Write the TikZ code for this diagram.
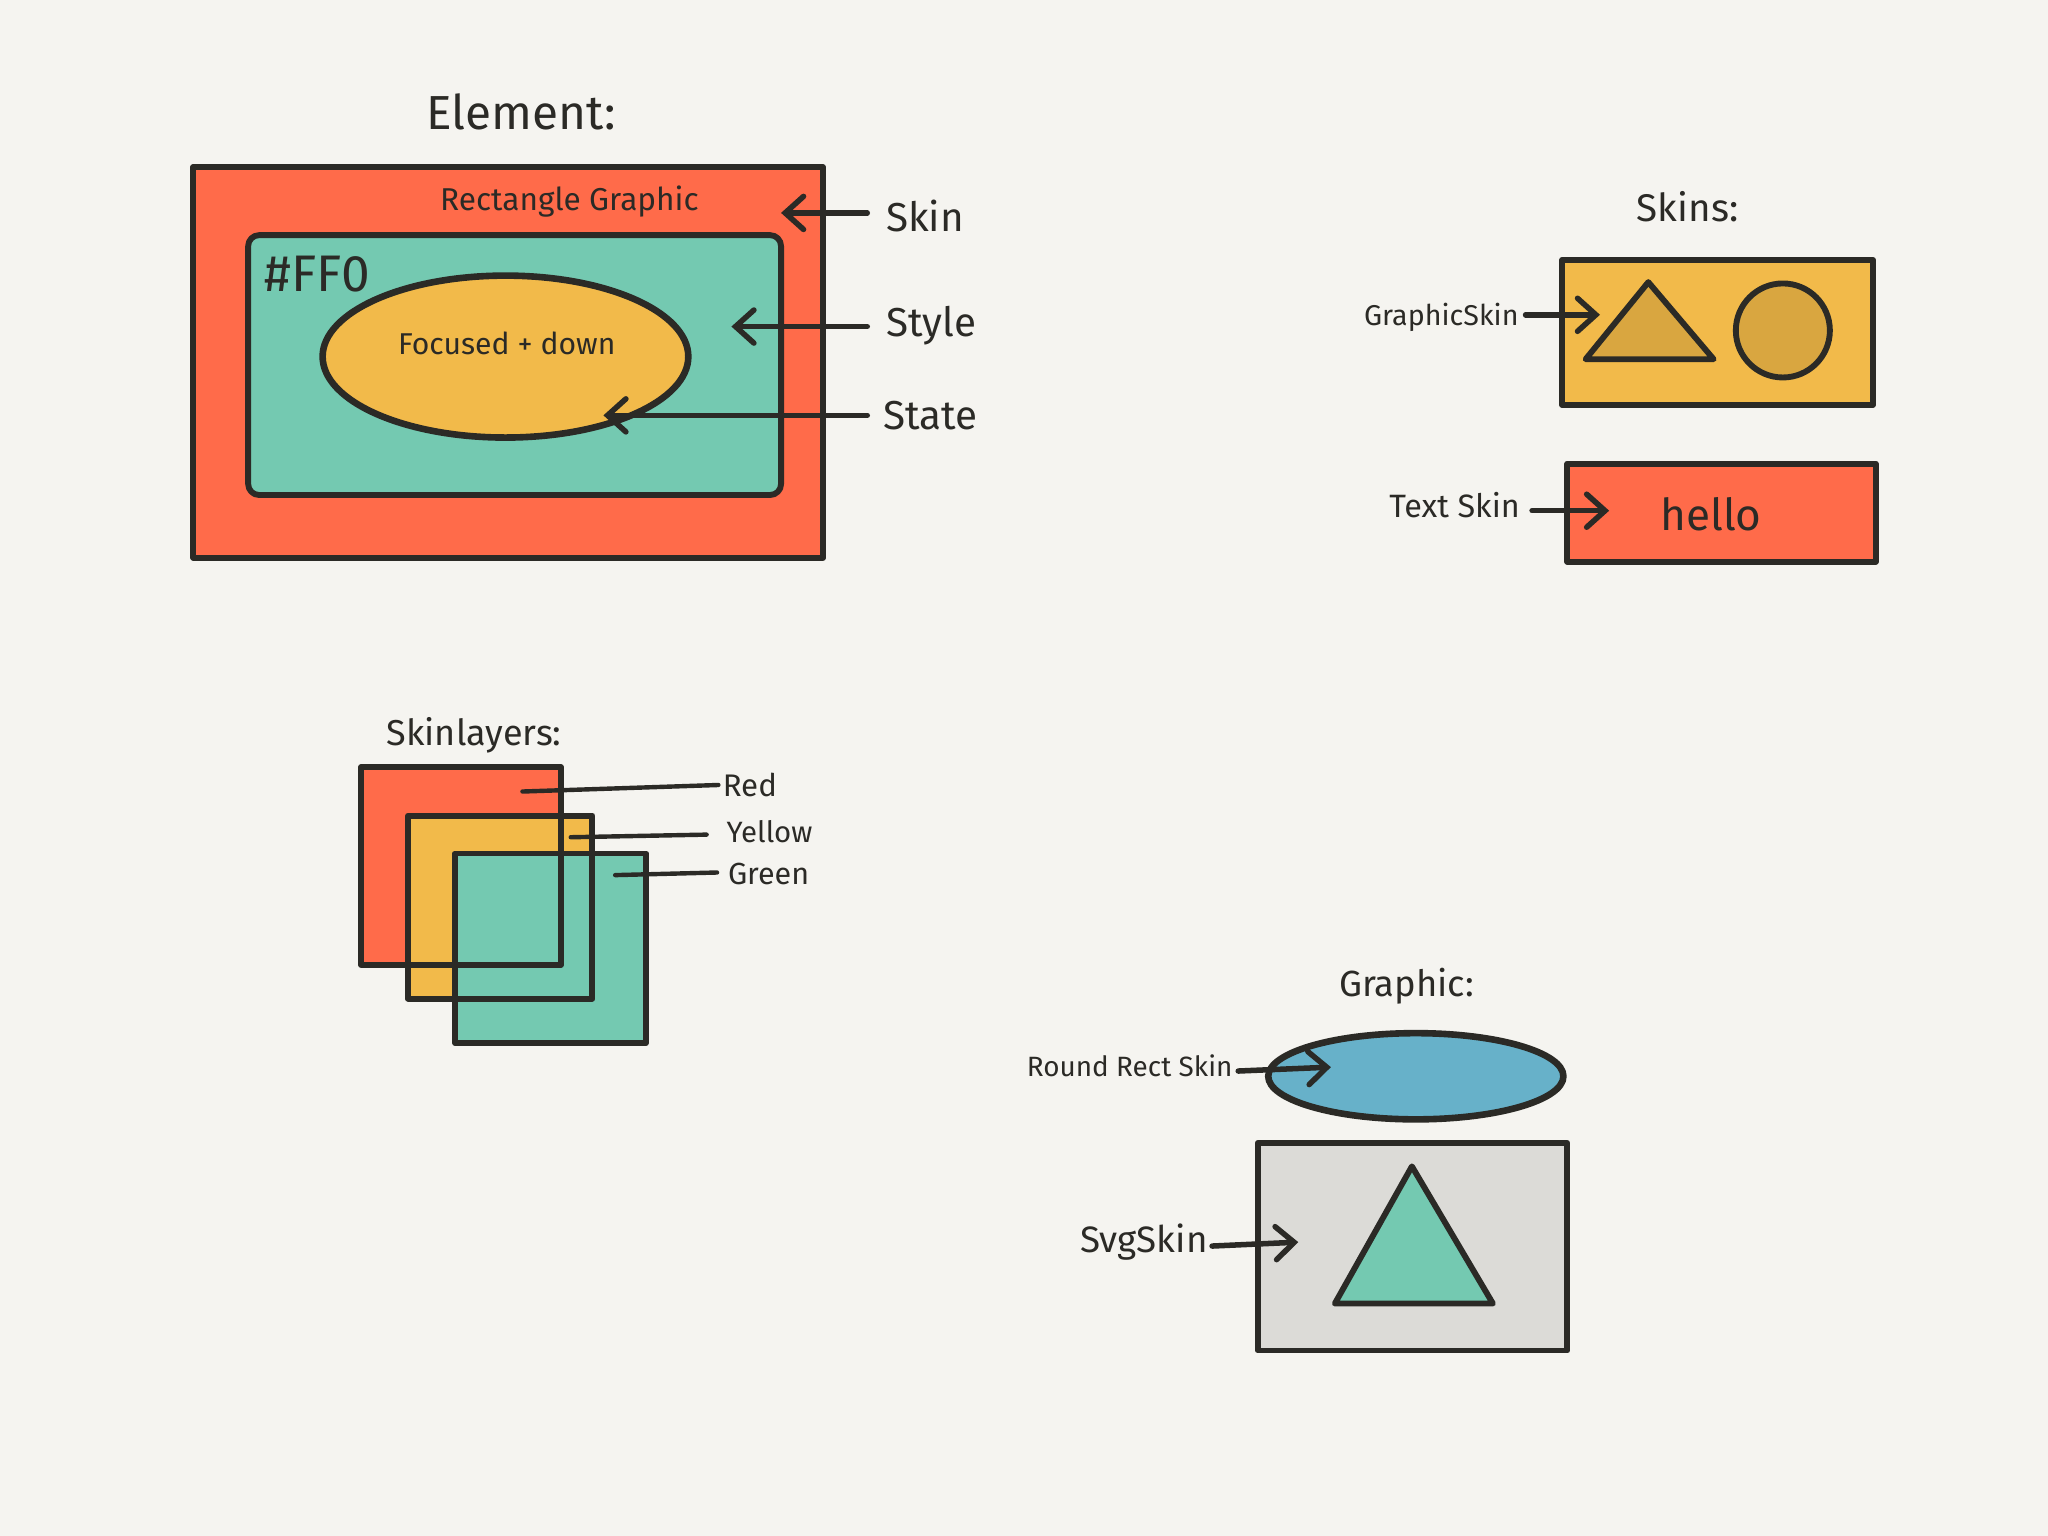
\documentclass[tikz,border=0pt]{standalone}
\usepackage{fontspec}
\setmainfont{Fira Sans}
\usetikzlibrary{arrows.meta,shapes.geometric}
\definecolor{bg}{HTML}{F5F4F0}
\definecolor{ink}{HTML}{2B2A26}
\definecolor{cred}{HTML}{FF6B4A}
\definecolor{cteal}{HTML}{74C9B1}
\definecolor{cyel}{HTML}{F2BA4A}
\definecolor{cdyel}{HTML}{D9A640}
\definecolor{cblue}{HTML}{67B1C9}
\definecolor{cgray}{HTML}{DCDBD7}
\def\u{0.0125cm}
\newcommand{\fs}[1]{\fontsize{#1}{#1}\selectfont}
\tikzset{
  shp/.style={draw=ink, line width=1.6pt, inner sep=0pt, line join=round},
  fillonly/.style={inner sep=0pt},
  arr/.style={draw=ink, line width=1.5pt, line cap=round, -{Straight Barb[length=5pt,width=9pt,line cap=round]}},
  lead/.style={draw=ink, line width=1.2pt, line cap=round},
  lbl/.style={text=ink, inner sep=1pt},
}
\begin{document}
\begin{tikzpicture}[x=0.0125cm, y=-0.0125cm]
\useasboundingbox (0,0) rectangle (1568,1176);
\fill[bg] (0,0) rectangle (1568,1176);

% ---------- Element ----------
\node[lbl, font=\fs{13}] (elTitle) at (399,86) {Element:};
\node[shp, fill=cred, minimum width=482*\u, minimum height=299*\u] (outer) at (389,277.5) {};
\node[lbl, font=\fs{8.6}] (rg) at (436,154) {Rectangle Graphic};
\node[shp, fill=cteal, rounded corners=3pt, minimum width=408*\u, minimum height=199*\u] (inner) at (394,279.5) {};
\node[lbl, font=\fs{14}] (ffo) at (243,210) {\#FF0};
\node[shp, ellipse, line width=1.8pt, fill=cyel, minimum width=280*\u, minimum height=124*\u] (state) at (387,273) {};
\node[lbl, font=\fs{8.2}] (fd) at (388,263) {Focused + down};

\node[lbl, font=\fs{11}, anchor=west] (skinL) at (675,165) {Skin};
\node[lbl, font=\fs{11}, anchor=west] (styleL) at (675,249) {Style};
\node[lbl, font=\fs{11}, anchor=west] (stateL) at (673,318) {State};
\coordinate (skinS) at (664,163);
\coordinate (skinT) at (598,163);
\coordinate (styleS) at (664,250);
\coordinate (styleT) at (560,250);
\coordinate (stateS) at (664,318);
\coordinate (stateT) at (462,318);
\draw[arr] (skinS) -- (skinT);
\draw[arr] (styleS) -- (styleT);
\draw[arr] (stateS) -- (stateT);

% ---------- Skins ----------
\node[lbl, font=\fs{10.5}] (skinsTitle) at (1292,158) {Skins:};
\node[shp, fill=cyel, minimum width=238*\u, minimum height=111*\u] (gskin) at (1315,254.5) {};
\coordinate (ta) at (1262,216);
\coordinate (tb) at (1214,275);
\coordinate (tc) at (1312,275);
\draw[shp, fill=cdyel] (ta) -- (tb) -- (tc) -- cycle;
\node[shp, circle, fill=cdyel, minimum size=72*\u] (circ) at (1365,253) {};
\node[lbl, font=\fs{7.8}, anchor=east] (gsL) at (1166,243) {GraphicSkin};
\coordinate (gsS) at (1168,241);
\coordinate (gsT) at (1225,241);
\draw[arr] (gsS) -- (gsT);

\node[shp, fill=cred, minimum width=236*\u, minimum height=75*\u] (tskin) at (1318,392.5) {};
\node[lbl, font=\fs{12}] (hello) at (1310,394) {hello};
\node[lbl, font=\fs{8.8}, anchor=east] (tsL) at (1167,387) {Text Skin};
\coordinate (tsS) at (1173,391);
\coordinate (tsT) at (1232,391);
\draw[arr] (tsS) -- (tsT);

% ---------- Skinlayers ----------
\node[lbl, font=\fs{9.8}] (slTitle) at (363,563) {Skinlayers:};
\node[fillonly, fill=cred, minimum width=152*\u, minimum height=150*\u] (lred) at (353,663) {};
\node[fillonly, fill=cyel, minimum width=140*\u, minimum height=139*\u] (lyel) at (383,694.5) {};
\node[fillonly, fill=cteal, minimum width=145*\u, minimum height=144*\u] (lgrn) at (421.5,726) {};
\draw[shp] (lred.north west) rectangle (lred.south east);
\draw[shp] (lyel.north west) rectangle (lyel.south east);
\draw[shp] (lgrn.north west) rectangle (lgrn.south east);
\node[lbl, font=\fs{8.5}, anchor=west] (redL) at (550,601) {Red};
\node[lbl, font=\fs{8}, anchor=west] (yelL) at (553,637) {Yellow};
\node[lbl, font=\fs{8.3}, anchor=west] (grnL) at (554,669) {Green};
\coordinate (redP) at (400,606);
\coordinate (redE) at (550,601);
\coordinate (yelP) at (437,641);
\coordinate (yelE) at (541,639);
\coordinate (grnP) at (471,670);
\coordinate (grnE) at (549,668);
\draw[lead] (redP) -- (redE);
\draw[lead] (yelP) -- (yelE);
\draw[lead] (grnP) -- (grnE);

% ---------- Graphic ----------
\node[lbl, font=\fs{9.9}] (grTitle) at (1077,755) {Graphic:};
\node[shp, ellipse, line width=1.8pt, fill=cblue, minimum width=226*\u, minimum height=66*\u] (rr) at (1084,824) {};
\node[shp, fill=cgray, minimum width=237*\u, minimum height=159*\u] (svg) at (1081.5,954.5) {};
\coordinate (sa) at (1081,893);
\coordinate (sb) at (1022,998);
\coordinate (sc) at (1143,998);
\draw[shp, fill=cteal] (sa) -- (sb) -- (sc) -- cycle;
\node[lbl, font=\fs{7.6}, anchor=east] (rrL) at (947,816) {Round Rect Skin};
\coordinate (rrS) at (948,820);
\coordinate (rrT) at (1019,817);
\draw[arr] (rrS) -- (rrT);
\node[lbl, font=\fs{10}, anchor=east] (svL) at (928,951) {SvgSkin};
\coordinate (svS) at (928,954);
\coordinate (svT) at (994,951);
\draw[arr] (svS) -- (svT);
\end{tikzpicture}
\end{document}
